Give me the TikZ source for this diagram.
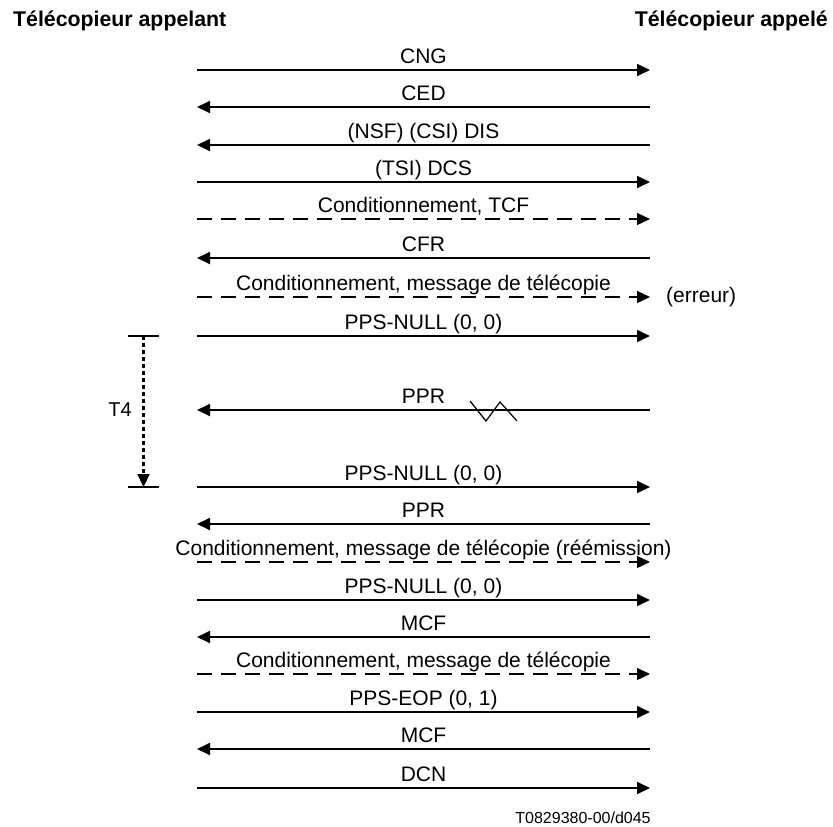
\documentclass[tikz,border=0pt]{standalone}
\usepackage{fontspec}
\setmainfont{Liberation Sans}
\usetikzlibrary{arrows.meta}
\begin{document}
\begin{tikzpicture}[x=1pt,y=-1pt,
  msg/.style={line width=1.8pt,-{Triangle[length=13pt,width=12pt]}},
  dmsg/.style={line width=1.3pt,dash pattern=on 15pt off 9pt,-{Triangle[length=13pt,width=12pt]}},
  lbl/.style={font=\fontsize{21}{25}\selectfont,anchor=base,inner sep=0pt},
  ttl/.style={font=\fontsize{21.3}{25}\selectfont\bfseries,inner sep=0pt},
  bar/.style={line width=1.6pt},
  timer/.style={line width=2.2pt,dash pattern=on 4pt off 3pt,-{Triangle[length=13pt,width=12pt]}},
  zig/.style={line width=1.2pt}]
\useasboundingbox (0,0) rectangle (833,827);
\def\xl{197}\def\xr{650}\def\xm{423.5}
\node[ttl,anchor=base west] (tA) at (13,26) {Télécopieur appelant};
\node[ttl,anchor=base east] (tB) at (828,26) {Télécopieur appelé};
% end points
\foreach \i/\y in {1/70,2/107,3/145,4/182,5/219,6/258,7/297,8/336,9/410,10/487,11/524,12/562,13/600,14/637,15/674,16/712,17/749,18/788}{
  \coordinate (L\i) at (\xl,\y);
  \coordinate (R\i) at (\xr,\y);
  \coordinate (M\i) at (\xm,\y-7);
}
\draw[msg]  (L1) -- (R1);   \node[lbl] (t1) at (M1) {CNG};
\draw[msg]  (R2) -- (L2);   \node[lbl] (t2) at (M2) {CED};
\draw[msg]  (R3) -- (L3);   \node[lbl] (t3) at (M3) {(NSF) (CSI) DIS};
\draw[msg]  (L4) -- (R4);   \node[lbl] (t4) at (M4) {(TSI) DCS};
\draw[dmsg] (L5) -- (R5);   \node[lbl] (t5) at (M5) {Conditionnement, TCF};
\draw[msg]  (R6) -- (L6);   \node[lbl] (t6) at (M6) {CFR};
\draw[dmsg] (L7) -- (R7);   \node[lbl] (t7) at (M7) {Conditionnement, message de télécopie};
\node[font=\fontsize{21}{25}\selectfont,anchor=west,inner sep=0pt] (err) at ([xshift=16pt]R7) {(erreur)};
\draw[msg]  (L8) -- (R8);   \node[lbl] (t8) at (M8) {PPS-NULL (0, 0)};
\draw[msg]  (R9) -- (L9);   \node[lbl] (t9) at (M9) {PPR};
\coordinate (z1) at (470,401);\coordinate (z2) at (486,421);\coordinate (z3) at (500,402);\coordinate (z4) at (517,421);
\draw[zig] (z1) -- (z2) -- (z3) -- (z4);
\draw[msg]  (L10) -- (R10); \node[lbl] (t10) at (M10) {PPS-NULL (0, 0)};
\draw[msg]  (R11) -- (L11); \node[lbl] (t11) at (M11) {PPR};
\draw[dmsg] (L12) -- (R12); \node[lbl] (t12) at (M12) {Conditionnement, message de télécopie (réémission)};
\draw[msg]  (L13) -- (R13); \node[lbl] (t13) at (M13) {PPS-NULL (0, 0)};
\draw[msg]  (R14) -- (L14); \node[lbl] (t14) at (M14) {MCF};
\draw[dmsg] (L15) -- (R15); \node[lbl] (t15) at (M15) {Conditionnement, message de télécopie};
\draw[msg]  (L16) -- (R16); \node[lbl] (t16) at (M16) {PPS-EOP (0, 1)};
\draw[msg]  (R17) -- (L17); \node[lbl] (t17) at (M17) {MCF};
\draw[msg]  (L18) -- (R18); \node[lbl] (t18) at (M18) {DCN};
% timer T4
\coordinate (b1l) at (128,336);\coordinate (b1r) at (159,336);
\coordinate (b2l) at (128,487);\coordinate (b2r) at (159,487);
\coordinate (tt) at (143.5,336);\coordinate (tb) at (143.5,487);
\draw[bar] (b1l) -- (b1r);
\draw[bar] (b2l) -- (b2r);
\draw[timer] (tt) -- (tb);
\node[font=\fontsize{20}{24}\selectfont,inner sep=0pt] (T4) at (120,410) {T4};
\node[font=\fontsize{16}{19}\selectfont,anchor=base,inner sep=0pt] (ref) at (583,823) {T0829380-00/d045};
\end{tikzpicture}
\end{document}
